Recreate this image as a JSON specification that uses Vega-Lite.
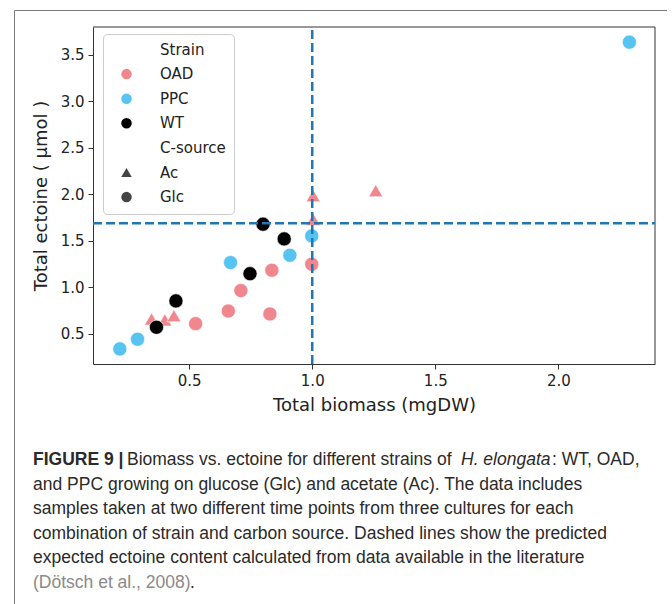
{
  "$schema": "https://vega.github.io/schema/vega-lite/v6.json",
  "background": "white",
  "autosize": {"type": "none"},
  "padding": {"left": 14, "top": 10, "right": 0, "bottom": 0},
  "width": 653,
  "height": 600,
  "view": {"stroke": "#7a7a7a", "strokeWidth": 1},
  "config": {
    "font": "DejaVu Sans",
    "axis": {
      "labelFont": "DejaVu Sans", "labelFontSize": 15, "labelColor": "#222",
      "titleFont": "DejaVu Sans", "titleFontSize": 18, "titleFontWeight": "normal", "titleColor": "#222",
      "tickColor": "#333", "domainColor": "#333", "tickSize": 5, "labelPadding": 4, "grid": false
    },
    "legend": {
      "orient": "none", "legendX": 89, "legendY": 24, "labelFont": "DejaVu Sans", "labelFontSize": 15, "labelColor": "#222",
      "symbolSize": 110, "rowPadding": 8.6, "padding": 8, "strokeColor": "#cccccc",
      "fillColor": "rgba(255,255,255,0.85)", "cornerRadius": 4, "symbolOffset": 8, "labelOffset": 26,
      "symbolStrokeWidth": 0
    }
  },
  "datasets": {
    "pts": [
      {"strain": "OAD", "csource": "Ac", "key": "OAD-Ac", "biomass": 0.347, "ectoine": 0.661},
      {"strain": "OAD", "csource": "Ac", "key": "OAD-Ac", "biomass": 0.401, "ectoine": 0.651},
      {"strain": "OAD", "csource": "Ac", "key": "OAD-Ac", "biomass": 0.438, "ectoine": 0.697},
      {"strain": "OAD", "csource": "Ac", "key": "OAD-Ac", "biomass": 1.004, "ectoine": 1.987},
      {"strain": "OAD", "csource": "Ac", "key": "OAD-Ac", "biomass": 1.004, "ectoine": 1.733},
      {"strain": "OAD", "csource": "Ac", "key": "OAD-Ac", "biomass": 1.258, "ectoine": 2.041},
      {"strain": "OAD", "csource": "Glc", "key": "OAD", "biomass": 0.526, "ectoine": 0.611},
      {"strain": "OAD", "csource": "Glc", "key": "OAD", "biomass": 0.659, "ectoine": 0.747},
      {"strain": "OAD", "csource": "Glc", "key": "OAD", "biomass": 0.710, "ectoine": 0.966},
      {"strain": "OAD", "csource": "Glc", "key": "OAD", "biomass": 0.836, "ectoine": 1.185},
      {"strain": "OAD", "csource": "Glc", "key": "OAD", "biomass": 0.828, "ectoine": 0.715},
      {"strain": "OAD", "csource": "Glc", "key": "OAD", "biomass": 0.998, "ectoine": 1.249},
      {"strain": "PPC", "csource": "Glc", "key": "PPC", "biomass": 0.218, "ectoine": 0.339},
      {"strain": "PPC", "csource": "Glc", "key": "PPC", "biomass": 0.290, "ectoine": 0.443},
      {"strain": "PPC", "csource": "Glc", "key": "PPC", "biomass": 0.668, "ectoine": 1.267},
      {"strain": "PPC", "csource": "Glc", "key": "PPC", "biomass": 0.909, "ectoine": 1.346},
      {"strain": "PPC", "csource": "Glc", "key": "PPC", "biomass": 0.998, "ectoine": 1.554},
      {"strain": "PPC", "csource": "Glc", "key": "PPC", "biomass": 2.289, "ectoine": 3.637},
      {"strain": "WT", "csource": "Glc", "key": "WT", "biomass": 0.367, "ectoine": 0.572},
      {"strain": "WT", "csource": "Glc", "key": "WT", "biomass": 0.446, "ectoine": 0.855},
      {"strain": "WT", "csource": "Glc", "key": "WT", "biomass": 0.747, "ectoine": 1.148},
      {"strain": "WT", "csource": "Glc", "key": "WT", "biomass": 0.800, "ectoine": 1.680},
      {"strain": "WT", "csource": "Glc", "key": "WT", "biomass": 0.886, "ectoine": 1.522}
    ],
    "vline": [{"biomass": 1.0}],
    "hline": [{"ectoine": 1.69}],
    "topspine": [{"ectoine": 3.80}],
    "rightspine": [{"biomass": 2.393}],
    "caption": [
      {"line": 1, "seg": "bold", "text": "FIGURE 9 |"},
      {"line": 1, "seg": "a", "text": "Biomass vs. ectoine for different strains of"},
      {"line": 1, "seg": "ital", "text": "H. elongata"},
      {"line": 1, "seg": "b", "text": ": WT, OAD,"},
      {"line": 2, "seg": "plain", "text": "and PPC growing on glucose (Glc) and acetate (Ac). The data includes"},
      {"line": 3, "seg": "plain", "text": "samples taken at two different time points from three cultures for each"},
      {"line": 4, "seg": "plain", "text": "combination of strain and carbon source. Dashed lines show the predicted"},
      {"line": 5, "seg": "plain", "text": "expected ectoine content calculated from data available in the literature"},
      {"line": 6, "seg": "cite", "text": "(Dötsch et al., 2008)"},
      {"line": 6, "seg": "end", "text": "."}
    ]
  },
  "resolve": {"scale": {"y": "independent"}, "axis": {"x": "independent", "y": "independent"}},
  "layer": [
    {
      "data": {"name": "pts"},
      "mark": {"type": "point", "filled": true, "opacity": 1, "stroke": "white", "strokeWidth": 0.6, "size": 200},
      "encoding": {
        "x": {"field": "biomass", "type": "quantitative",
              "scale": {"domain": [0.109, 2.393], "range": [79, 641], "nice": false, "zero": false},
              "axis": {"orient": "bottom", "offset": -246, "values": [0.5, 1.0, 1.5, 2.0], "format": ".1f", "title": "Total biomass (mgDW)", "titlePadding": 8}},
        "y": {"field": "ectoine", "type": "quantitative",
              "scale": {"domain": [0.177, 3.80], "range": [354, 17], "nice": false, "zero": false},
              "axis": {"orient": "left", "offset": -79, "values": [0.5, 1.0, 1.5, 2.0, 2.5, 3.0, 3.5], "format": ".1f", "title": "Total ectoine ( μmol )", "titlePadding": 10}},
        "color": {"field": "key", "type": "nominal",
                  "scale": {"domain": ["Strain", "OAD", "PPC", "WT", "C-source", "Ac", "Glc", "OAD-Ac"],
                            "range": ["rgba(0,0,0,0)", "#f0878e", "#56c3f0", "#000000", "rgba(0,0,0,0)", "#444444", "#444444", "#f0878e"]},
                  "legend": {"title": null, "values": ["Strain", "OAD", "PPC", "WT", "C-source", "Ac", "Glc"]}},
        "shape": {"field": "key", "type": "nominal",
                  "scale": {"domain": ["Strain", "OAD", "PPC", "WT", "C-source", "Ac", "Glc", "OAD-Ac"],
                            "range": ["circle", "circle", "circle", "circle", "circle", "triangle-up", "circle", "triangle-up"]},
                  "legend": {"title": null, "values": ["Strain", "OAD", "PPC", "WT", "C-source", "Ac", "Glc"]}}
      }
    },
    {
      "data": {"name": "topspine"},
      "mark": {"type": "rule", "color": "#333", "strokeWidth": 1},
      "encoding": {
        "y": {"field": "ectoine", "type": "quantitative",
              "scale": {"domain": [0.177, 3.80], "range": [354, 17], "nice": false, "zero": false}, "axis": null},
        "x": {"datum": 0.109, "type": "quantitative", "axis": null},
        "x2": {"datum": 2.393}
      }
    },
    {
      "data": {"name": "rightspine"},
      "mark": {"type": "rule", "color": "#333", "strokeWidth": 1},
      "encoding": {
        "x": {"field": "biomass", "type": "quantitative", "axis": null},
        "y": {"datum": 0.177, "type": "quantitative",
              "scale": {"domain": [0.177, 3.80], "range": [354, 17], "nice": false, "zero": false}, "axis": null},
        "y2": {"datum": 3.80}
      }
    },
    {
      "data": {"name": "vline"},
      "mark": {"type": "rule", "color": "#1f77b4", "strokeWidth": 2.5, "strokeDash": [9, 4]},
      "encoding": {
        "x": {"field": "biomass", "type": "quantitative", "axis": null},
        "y": {"datum": 0.177, "type": "quantitative",
              "scale": {"domain": [0.177, 3.80], "range": [354, 17], "nice": false, "zero": false}, "axis": null},
        "y2": {"datum": 3.80}
      }
    },
    {
      "data": {"name": "hline"},
      "mark": {"type": "rule", "color": "#1f77b4", "strokeWidth": 2.5, "strokeDash": [9, 4]},
      "encoding": {
        "y": {"field": "ectoine", "type": "quantitative",
              "scale": {"domain": [0.177, 3.80], "range": [354, 17], "nice": false, "zero": false}, "axis": null},
        "x": {"datum": 0.109, "type": "quantitative", "axis": null},
        "x2": {"datum": 2.393}
      }
    },
    {
      "data": {"name": "caption"},
      "encoding": {
        "y": {"field": "line", "type": "quantitative", "axis": null,
              "scale": {"domain": [0.5, 6.5], "range": [437.7, 585.3], "nice": false, "zero": false}},
        "text": {"field": "text"}
      },
      "layer": [
        {"transform": [{"filter": "datum.seg === 'plain'"}],
         "mark": {"type": "text", "align": "left", "baseline": "middle", "font": "Liberation Sans", "fontSize": 17.5, "color": "#2a2a2a", "x": 19}},
        {"transform": [{"filter": "datum.seg === 'bold'"}],
         "mark": {"type": "text", "align": "left", "baseline": "middle", "font": "Liberation Sans", "fontSize": 17.5, "fontWeight": "bold", "color": "#2a2a2a", "x": 19}},
        {"transform": [{"filter": "datum.seg === 'a'"}],
         "mark": {"type": "text", "align": "left", "baseline": "middle", "font": "Liberation Sans", "fontSize": 17.5, "color": "#2a2a2a", "x": 113}},
        {"transform": [{"filter": "datum.seg === 'ital'"}],
         "mark": {"type": "text", "align": "left", "baseline": "middle", "font": "Liberation Sans", "fontSize": 17.5, "fontStyle": "italic", "color": "#2a2a2a", "x": 447}},
        {"transform": [{"filter": "datum.seg === 'b'"}],
         "mark": {"type": "text", "align": "left", "baseline": "middle", "font": "Liberation Sans", "fontSize": 17.5, "color": "#2a2a2a", "x": 538}},
        {"transform": [{"filter": "datum.seg === 'cite'"}],
         "mark": {"type": "text", "align": "left", "baseline": "middle", "font": "Liberation Sans", "fontSize": 17.5, "color": "#8a8a8a", "x": 19}},
        {"transform": [{"filter": "datum.seg === 'end'"}],
         "mark": {"type": "text", "align": "left", "baseline": "middle", "font": "Liberation Sans", "fontSize": 17.5, "color": "#2a2a2a", "x": 176}}
      ]
    }
  ]
}
